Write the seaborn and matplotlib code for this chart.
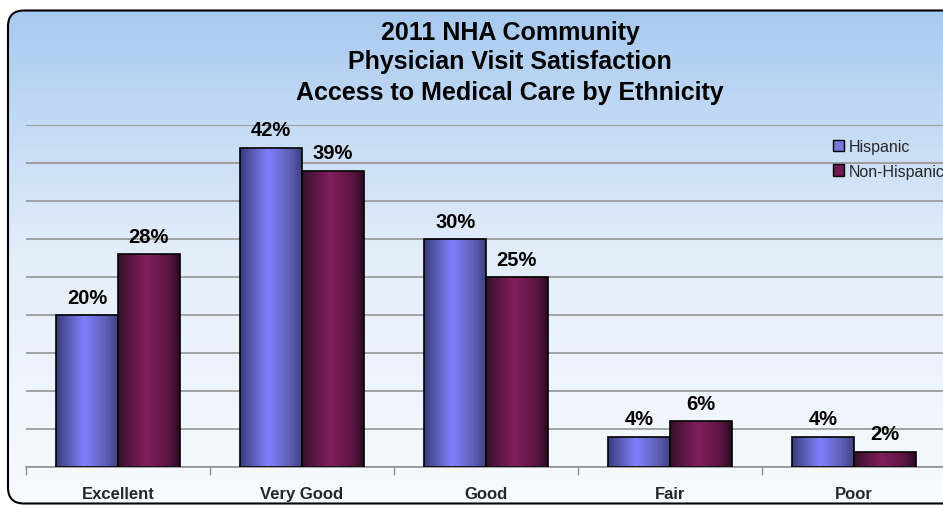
import numpy as np
import pandas as pd
import matplotlib
matplotlib.use("Agg")
import matplotlib.pyplot as plt
import seaborn as sns
from matplotlib.colors import LinearSegmentedColormap
from matplotlib.patches import FancyBboxPatch, Patch

# ---- data ----
categories = ["Excellent", "Very Good", "Good", "Fair", "Poor"]
hispanic = [20, 42, 30, 4, 4]
non_hispanic = [28, 39, 25, 6, 2]
groups = ["Hispanic", "Non-Hispanic"]
title_lines = ["2011 NHA Community",
               "Physician Visit Satisfaction",
               "Access to Medical Care by Ethnicity"]

df = pd.DataFrame({
    "Rating": categories * 2,
    "Share": hispanic + non_hispanic,
    "Group": [groups[0]] * len(categories) + [groups[1]] * len(categories),
})

# ---- figure ----
W, H = 943, 506
sns.set_theme(style="white")
plt.rcParams["font.family"] = ["Liberation Sans", "DejaVu Sans"]
fig = plt.figure(figsize=(W / 100, H / 100), dpi=100)
fig.patch.set_facecolor("white")

# rounded panel with a vertical blue-to-white gradient
bg = fig.add_axes([0, 0, 1, 1], zorder=0)
panel = FancyBboxPatch((8, 1.5), 1200, 493, boxstyle="round,pad=0,rounding_size=16",
                       facecolor="none", edgecolor="black", linewidth=1.5, zorder=2)
grad = np.linspace(0, 1, 256).reshape(-1, 1)
panel_cmap = LinearSegmentedColormap.from_list("panel", ["#f8fbff", "#e4eefa", "#a8caf0"])
im = bg.imshow(grad, cmap=panel_cmap, extent=(8, 1208, 1.5, 494.5), origin="lower",
               aspect="auto", zorder=1)
bg.add_patch(panel)
im.set_clip_path(panel)
bg.set_xlim(0, W)
bg.set_ylim(0, H)
bg.axis("off")

# ---- bars ----
ax = fig.add_axes([26 / W, 38 / H, 920 / W, 342 / H], zorder=1)
ax.patch.set_alpha(0)
sns.barplot(data=df, x="Rating", y="Share", hue="Group", order=categories,
            hue_order=groups, width=0.67, gap=0, saturation=1, legend=False,
            edgecolor="black", linewidth=1.2, ax=ax)

bar_cmaps = {
    0: LinearSegmentedColormap.from_list(
        "hisp", [(0, "#3a3c78"), (0.45, "#8080ff"), (0.8, "#5e60b8"), (1, "#3e4080")]),
    1: LinearSegmentedColormap.from_list(
        "nonhisp", [(0, "#35102a"), (0.45, "#821f5e"), (0.8, "#5e1545"), (1, "#2e0a22")]),
}
ramp = np.linspace(0, 1, 256).reshape(1, -1)
for bar in list(ax.patches):
    x0, w, h = bar.get_x(), bar.get_width(), bar.get_height()
    cx = x0 + w / 2
    series = 0 if cx < round(cx) else 1
    img = ax.imshow(ramp, cmap=bar_cmaps[series], extent=(x0, x0 + w, 0, h),
                    aspect="auto", zorder=2)
    img.set_clip_path(bar)
    bar.set_facecolor("none")
    bar.set_zorder(3)

# value labels
half = 0.67 / 4
for i, (a, b) in enumerate(zip(hispanic, non_hispanic)):
    for xpos, v in ((i - half, a), (i + half, b)):
        ax.annotate(f"{v}%", (xpos, v), xytext=(0, 6), textcoords="offset points",
                    ha="center", va="bottom", fontsize=14.5, fontweight="bold",
                    color="black", zorder=4)

# ---- axes styling ----
ax.set_xlim(-0.5, len(categories) - 0.5)
ax.set_ylim(0, 45)
ax.set_yticks(np.arange(0, 50, 5))
ax.set_yticklabels([])
ax.tick_params(axis="y", length=0)
ax.grid(axis="y", color="#8c8c8c", linewidth=1.1, zorder=0)
ax.set_axisbelow(True)
ax.set_xticks(range(len(categories)))
ax.set_xticklabels(categories, fontsize=12, fontweight="bold")
ax.set_xticks(np.arange(-0.5, len(categories)), minor=True)
ax.tick_params(axis="x", which="major", length=0, pad=13.5)
ax.tick_params(axis="x", which="minor", length=6, width=1, color="#8c8c8c",
               direction="out", bottom=True)
for side in ("left", "right", "top"):
    ax.spines[side].set_visible(False)
ax.spines["bottom"].set_color("#8c8c8c")
ax.spines["bottom"].set_linewidth(1.1)
ax.set_xlabel("")
ax.set_ylabel("")

# ---- title ----
for line, ypix in zip(title_lines, (33, 62, 93)):
    fig.text(510 / W, 1 - ypix / H, line, ha="center", va="center",
             fontsize=18, fontweight="bold", color="black")

# ---- legend ----
handles = [Patch(facecolor="#7676dc", edgecolor="black", linewidth=1),
           Patch(facecolor="#6e1a52", edgecolor="black", linewidth=1)]
ax.legend(handles=handles, labels=groups, loc="upper left",
          bbox_to_anchor=(833 / W, 1 - 140 / H), bbox_transform=fig.transFigure,
          frameon=False, fontsize=11.5, handlelength=0.7, handleheight=0.7,
          handletextpad=0.3, labelspacing=0.6, borderpad=0, borderaxespad=0)

fig.savefig("out.png", dpi=100, facecolor="white")
